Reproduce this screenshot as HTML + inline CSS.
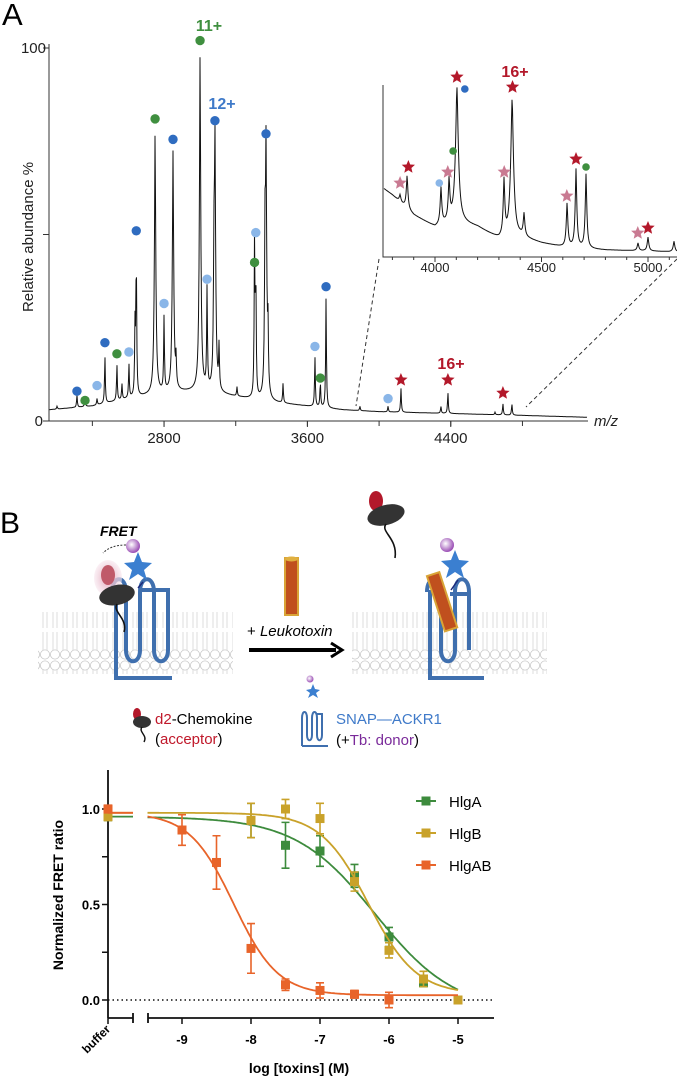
<!DOCTYPE html>
<html><head><meta charset="utf-8"><style>
html,body{margin:0;padding:0;background:#fff;width:677px;height:1079px;overflow:hidden}
svg{display:block;font-family:"Liberation Sans",sans-serif}
</style></head><body>
<svg id="fig" width="677" height="1079" viewBox="0 0 677 1079">
<defs>
<pattern id="lip" width="10" height="60" patternUnits="userSpaceOnUse">
<circle cx="5" cy="5.5" r="4.6" fill="#fff" stroke="#c8c8c8" stroke-width="0.8"/>
<circle cx="5" cy="54.5" r="4.6" fill="#fff" stroke="#c8c8c8" stroke-width="0.8"/>
<path d="M3 10 L3 28 M7 10 L7 28 M3 32 L3 50 M7 32 L7 50" stroke="#d4d4d4" stroke-width="0.8"/>
</pattern>
<radialGradient id="sph" cx="0.4" cy="0.4" r="0.6"><stop offset="0" stop-color="#fff"/><stop offset="1" stop-color="#9b4fb5"/></radialGradient>
<radialGradient id="glow"><stop offset="0" stop-color="#e0a0b4"/><stop offset="1" stop-color="#f7e6ee" stop-opacity="0.6"/></radialGradient>
</defs>

<!-- PANEL A -->
<text x="2" y="25" font-size="31">A</text>
<g id="specA"></g>
<text transform="translate(33,237) rotate(-90)" text-anchor="middle" font-size="15" fill="#222">Relative abundance %</text>
<text x="594" y="426" font-size="15" font-style="italic" fill="#222">m/z</text>

<!-- PANEL B diagram -->
<text x="0" y="533" font-size="30">B</text>
<g>
<rect x="38" y="612" width="195" height="62" fill="url(#lip)"/>
<rect x="352" y="612" width="195" height="62" fill="url(#lip)"/>
<path d="M112 592 C112 575 126 575 126 592 L126 650 C126 665 140 665 140 650 L140 592 C140 575 154 575 154 592 L154 650 C154 665 168 665 168 650 L168 592 L168 590 L140 590 M116 590 L116 678 L172 678" fill="none" stroke="#3f6fae" stroke-width="4"/>
<ellipse cx="108" cy="578" rx="14" ry="18" fill="url(#glow)"/>
<ellipse cx="108" cy="575" rx="7" ry="10" fill="#c05a6a"/>
<ellipse cx="117" cy="595" rx="18" ry="10" fill="#333" transform="rotate(-12 117 595)"/>
<path d="M117 604 C112 612 128 618 124 632" stroke="#111" stroke-width="1.6" fill="none"/>
<path d="M143 582 L138 588" stroke="#1d2a7a" stroke-width="1.5"/>
<polygon points="138,552 142,562 152,563 144,570 147,580 138,574 129,580 132,570 124,563 134,562" fill="#3b7fd0"/>
<circle cx="133" cy="546" r="7" fill="url(#sph)"/>
<text x="100" y="536" font-size="14" font-weight="bold" font-style="italic">FRET</text>
<path d="M126 545 C115 545 108 548 103 553" stroke="#333" stroke-width="1" stroke-dasharray="2,1.5" fill="none"/>
<rect x="285" y="558" width="13" height="57" fill="#c0501e" stroke="#d9a437" stroke-width="2"/>
<ellipse cx="291.5" cy="559" rx="6.5" ry="2.5" fill="#e0b040"/>
<text x="247" y="636" font-size="15">+ <tspan font-style="italic">Leukotoxin</tspan></text>
<line x1="249" y1="650" x2="336" y2="650" stroke="#000" stroke-width="4"/>
<path d="M331 643 L342 650 L331 657" fill="none" stroke="#000" stroke-width="3"/>
<path d="M427 592 C427 575 441 575 441 592 L441 650 C441 665 455 665 455 650 L455 592 C455 575 469 575 469 592 L469 650 L469 594 L450 594 M430 590 L430 678 L484 678" fill="none" stroke="#3f6fae" stroke-width="4"/>
<g transform="rotate(-18 441 600)"><rect x="435" y="573" width="13" height="58" fill="#c0501e" stroke="#d9a437" stroke-width="2"/></g>
<path d="M458 580 L451 590" stroke="#1d2a7a" stroke-width="1.5"/>
<polygon points="455,550 459,560 469,561 461,568 464,578 455,572 446,578 449,568 441,561 451,560" fill="#3b7fd0"/>
<circle cx="447" cy="545" r="7" fill="url(#sph)"/>
<ellipse cx="376" cy="501" rx="7" ry="10" fill="#b3182a"/>
<ellipse cx="386" cy="515" rx="19" ry="10" fill="#333" transform="rotate(-15 386 515)"/>
<path d="M386 524 C380 532 398 538 395 558" stroke="#111" stroke-width="1.6" fill="none"/>
<ellipse cx="137" cy="714" rx="4" ry="6" fill="#b3182a"/>
<ellipse cx="142" cy="722" rx="9" ry="6" fill="#333"/>
<path d="M142 727 C138 732 148 735 144 742" stroke="#111" stroke-width="1.4" fill="none"/>
<text x="155" y="724" font-size="15"><tspan fill="#c0182a">d2</tspan>-Chemokine</text>
<text x="155" y="744" font-size="15">(<tspan fill="#c0182a">acceptor</tspan>)</text>
<path d="M302 746 L302 718 C302 710 307 710 307 718 L307 735 C307 742 312 742 312 735 L312 718 C312 710 317 710 317 718 L317 735 C317 742 322 742 322 735 L322 714 L316 714 M302 746 L328 746" fill="none" stroke="#3f6fae" stroke-width="2"/>
<circle cx="310" cy="679" r="3.5" fill="url(#sph)"/>
<polygon points="313,684 315,689 320,690 316,693 318,698 313,695 308,698 310,693 306,690 311,689" fill="#3b7fd0"/>
<text x="336" y="724" font-size="15" fill="#3f7ac9">SNAP—ACKR1</text>
<text x="336" y="745" font-size="15">(+<tspan fill="#7a2a9a">Tb: donor</tspan>)</text>
</g>

<g id="chartB"></g>
</svg>

<script>
// ===== Panel A data =====
const peakMz = [2203,2314,2359,2426,2470,2537,2565,2604,2638,2645,2750,2800,2850,2867,3001,3040,3078,3084,3107,3207,3305,3312,3363,3369,3380,3464,3642,3672,3704,3893,4050,4122,4345,4384,4647,4691,4741];
const peakHeight = [4,7,6.5,6,18,15.5,10,15.5,25,48,79,28,73.5,15,100,35.6,33,78,19,9,48.5,40,37,75,21,10,17.7,11,33.8,4,4,9,4,8,2.4,4.8,4.8];
const baseMz = [2158,2400,2600,2800,3000,3200,3400,3600,3800,4000,4400,4800,5160];
const baseLevel = [3,4,6,7.5,8,6.5,5,4,3,2.5,2,1.5,1];
const xTickLabelsA = [2800,3600,4400];
const dotBlue = [[2314,8],[2470,21],[2645,51],[2850,75.5],[3084,80.5],[3369,77],[3704,36]];
const dotGreen = [[2359,5.5],[2537,18],[2750,81],[3001,102],[3305,42.5],[3672,11.5]];
const dotLight = [[2426,9.5],[2604,18.5],[2800,31.5],[3040,38],[3312,50.5],[3642,20],[4050,6]];
const starRed = [[4122,11],[4384,11],[4691,7.5]];
const insPeakMz = [3836,3869,4028,4066,4103,4324,4362,4418,4620,4662,4709,4953,5000,5122];
const insPeakH = [62,82,69,75,172,75,160,42,54,89,84,14,20,16];
const insBaseMz = [3756,3800,3900,4000,4100,4200,4300,4400,4500,4600,4800,5000,5150];
const insBaseH = [69,62,42,30,36,30,18,20,14,10,7,6,5];
const insTicks = [4000,4500,5000];
const insStarRed = [[3875,90],[4103,180],[4364,170],[4662,98],[5000,29]];
const insStarPink = [[3836,74],[4060,85],[4325,85],[4619,61],[4952,24]];
const insDots = [[4140,168,'#2f6cc0'],[4085,106,'#3f8f3f'],[4020,74,'#8ab6e8'],[4709,90,'#3f8f3f']];

// ===== Panel B data =====
const buffer = 'buffer';
const xTickLabelsB = [-9,-8,-7,-6,-5];
const yTickLabelsB = ['0.0','0.5','1.0'];
const seriesNames = ['HlgA','HlgB','HlgAB'];
const hlgaX = [-8,-7.5,-7,-6.5,-6,-5.5,-5];
const hlgaY = [0.94,0.81,0.78,0.65,0.33,0.09,0.0];
const hlgaErr = [0.09,0.12,0.08,0.06,0.05,0.02,0.01];
const hlgaBuf = 0.96;
const hlgbX = [-8,-7.5,-7,-6.5,-6,-5.5,-5];
const hlgbY = [0.94,1.0,0.95,0.62,0.26,0.11,0.0];
const hlgbErr = [0.09,0.05,0.08,0.05,0.04,0.04,0.01];
const hlgbBuf = 0.96;
const hlgabX = [-9,-8.5,-8,-7.5,-7,-6.5,-6];
const hlgabY = [0.89,0.72,0.27,0.08,0.05,0.03,0.0];
const hlgabErr = [0.08,0.14,0.13,0.03,0.04,0.02,0.04];
const hlgabBuf = 1.0;
const hlgaFit = [0.96,-0.06,-6.2,0.75];
const hlgbFit = [0.98,0.03,-6.3,1.25];
const hlgabFit = [0.98,0.025,-8.25,1.35];

const NS = 'http://www.w3.org/2000/svg';
function mk(parent, tag, attrs){const e=document.createElementNS(NS,tag);for(const k in attrs)e.setAttribute(k,attrs[k]);parent.appendChild(e);return e;}
function interp(xs,ys,x){if(x<=xs[0])return ys[0];for(let i=1;i<xs.length;i++){if(x<=xs[i]){const t=(x-xs[i-1])/(xs[i]-xs[i-1]);return ys[i-1]+t*(ys[i]-ys[i-1]);}}return ys[ys.length-1];}
function starPts(cx,cy,R){const r=R*0.45;let p=[];for(let i=0;i<10;i++){const a=-Math.PI/2+i*Math.PI/5;const rr=i%2?r:R;p.push((cx+rr*Math.cos(a)).toFixed(1)+','+(cy+rr*Math.sin(a)).toFixed(1));}return p.join(' ');}

const gA=document.getElementById('specA');
const xA = mz => 49 + (mz-2158)*0.1792;
const yA = v => 421 - v*3.73;
function specVal(mz,pm,ph,bm,bl,w,big){let b=interp(bm,bl,mz);let s=b;for(let i=0;i<pm.length;i++){const amp=(ph[i]-interp(bm,bl,pm[i]))*0.85;const ww=w*(ph[i]>big?1.8:1);const d=(mz-pm[i])/ww;s+=amp/(1+d*d);const d2=(mz-pm[i])/(ww*0.35);s+=amp*0.15*Math.exp(-d2*d2);}return s;}
let d='';
for(let px=49.5;px<=587;px+=0.5){const mz=2158+(px-49)/0.1792;const v=Math.min(specVal(mz,peakMz,peakHeight,baseMz,baseLevel,2.8,60),101);d+=(d?'L':'M')+px.toFixed(1)+' '+yA(v).toFixed(1);}
let e=mk(gA,'path',{d:d,fill:'none',stroke:'#111','stroke-width':1});


e=mk(gA,'line',{x1:49,y1:44,x2:49,y2:421,stroke:'#333','stroke-width':1});


e=mk(gA,'line',{x1:49,y1:421,x2:588,y2:421,stroke:'#333','stroke-width':1});


[[100,'100'],[50,''],[0,'0']].forEach(t=>{mk(gA,'line',{x1:43,y1:yA(t[0]),x2:49,y2:yA(t[0]),stroke:'#333'});if(t[1]){const tx=mk(gA,'text',{x:t[1]==='0'?43:46,y:yA(t[0])+5,'text-anchor':'end','font-size':15,fill:'#222'});tx.textContent=t[1];}});
for(let m=2400;m<=5100;m+=400){mk(gA,'line',{x1:xA(m),y1:421,x2:xA(m),y2:426,stroke:'#333'});}
xTickLabelsA.forEach(m=>{mk(gA,'line',{x1:xA(m),y1:421,x2:xA(m),y2:427,stroke:'#333'});const t=mk(gA,'text',{x:xA(m),y:443,'text-anchor':'middle','font-size':15,fill:'#222'});t.textContent=m;});
function dots(arr,col,name){arr.forEach(p=>{const c=mk(gA,'circle',{cx:xA(p[0]),cy:yA(p[1]),r:4.7,fill:col});});}
dots(dotBlue,'#2f6cc0','charge-dot-blue');dots(dotGreen,'#3f8f3f','charge-dot-green');dots(dotLight,'#8ab6e8','charge-dot-lightblue');
starRed.forEach(p=>{const s=mk(gA,'polygon',{points:starPts(xA(p[0]),yA(p[1]),7),fill:'#b3182a'});});
function lab(x,y,txt,col,name){const t=mk(gA,'text',{x:x,y:y,'text-anchor':'middle','font-size':16,'font-weight':'bold',fill:col});t.textContent=txt;}
lab(209,31,'11+','#3f8f3f','label-11plus');lab(222,109,'12+','#3f7ac9','label-12plus');lab(451,369,'16+','#b3182a','label-16plus');lab(515,77,'16+','#b3182a','inset-label-16plus');
const xI = mz => 435 + (mz-4000)*0.213;
const yI = v => 257 - v;
let di='';
for(let px=384;px<=677;px+=0.5){const mz=4000+(px-435)/0.213;const v=Math.min(specVal(mz,insPeakMz,insPeakH,insBaseMz,insBaseH,5,120),172);di+=(di?'L':'M')+px.toFixed(1)+' '+yI(v).toFixed(1);}
e=mk(gA,'path',{d:di,fill:'none',stroke:'#111','stroke-width':1});


e=mk(gA,'path',{d:'M383 85 L383 257 L677 257',fill:'none',stroke:'#333'});


for(let m=3800;m<=5100;m+=100){mk(gA,'line',{x1:xI(m),y1:257,x2:xI(m),y2:(m%500===0?262:260),stroke:'#333'});}
insTicks.forEach(m=>{const t=mk(gA,'text',{x:xI(m),y:272,'text-anchor':'middle','font-size':13,fill:'#222'});t.textContent=m;});
insStarRed.forEach(p=>{const s=mk(gA,'polygon',{points:starPts(xI(p[0]),yI(p[1]),7),fill:'#b3182a'});});
insStarPink.forEach(p=>{const s=mk(gA,'polygon',{points:starPts(xI(p[0]),yI(p[1]),7),fill:'#c97a92'});});
insDots.forEach(p=>{const c=mk(gA,'circle',{cx:xI(p[0]),cy:yI(p[1]),r:3.8,fill:p[2]});});
mk(gA,'line',{x1:379,y1:259,x2:356,y2:406,stroke:'#333','stroke-dasharray':'4,3'});
mk(gA,'line',{x1:677,y1:259,x2:526,y2:407,stroke:'#333','stroke-dasharray':'4,3'});

const gB=document.getElementById('chartB');
const xB = l => 182 + (l+9)*69;
const yB = v => 1000 - v*191;
const xBuf = 108;
e=mk(gB,'line',{x1:108,y1:770,x2:108,y2:1018,stroke:'#111','stroke-width':1.8});


e=mk(gB,'path',{d:'M108 1018 L133 1018 M133 1013 L133 1023 M148 1013 L148 1023 M148 1018 L494 1018',stroke:'#111','stroke-width':1.8,fill:'none'});


[0,0.25,0.5,0.75,1].forEach(v=>mk(gB,'line',{x1:102,y1:yB(v),x2:108,y2:yB(v),stroke:'#111','stroke-width':1.5}));
yTickLabelsB.forEach(s=>{const t=mk(gB,'text',{x:100,y:yB(+s)+5,'text-anchor':'end','font-size':13,'font-weight':'bold'});t.textContent=s;});
mk(gB,'line',{x1:108,y1:1018,x2:108,y2:1024,stroke:'#111','stroke-width':1.5});
xTickLabelsB.forEach(v=>{mk(gB,'line',{x1:xB(v),y1:1018,x2:xB(v),y2:1024,stroke:'#111','stroke-width':1.5});const t=mk(gB,'text',{x:xB(v),y:1044,'text-anchor':'middle','font-size':13,'font-weight':'bold'});t.textContent=v;});
e=mk(gB,'text',{x:0,y:0,'font-size':12,'font-weight':'bold',transform:'translate(111,1030) rotate(-45)','text-anchor':'end'});
e.textContent=buffer;


e=mk(gB,'line',{x1:108,y1:yB(0),x2:494,y2:yB(0),stroke:'#111','stroke-width':1.5,'stroke-dasharray':'1.5,3'});


e=mk(gB,'text',{x:0,y:0,transform:'translate(63,895) rotate(-90)','text-anchor':'middle','font-size':14,'font-weight':'bold'});
e.textContent='Normalized FRET ratio';


e=mk(gB,'text',{x:299,y:1073,'text-anchor':'middle','font-size':14,'font-weight':'bold'});
e.textContent='log [toxins] (M)';


const cols=['#3d8b3d','#c9a22a','#e8642a'];
const S=[[hlgaX,hlgaY,hlgaErr,hlgaBuf,hlgaFit],[hlgbX,hlgbY,hlgbErr,hlgbBuf,hlgbFit],[hlgabX,hlgabY,hlgabErr,hlgabBuf,hlgabFit]];
S.forEach((s,k)=>{const c=cols[k];const f=s[4];
 const fn=l=>f[1]+(f[0]-f[1])/(1+Math.pow(10,(l-f[2])*f[3]));
 let p='';for(let l=-9.5;l<=-5.0001+0.001;l+=0.02){p+=(p?'L':'M')+xB(l).toFixed(1)+' '+yB(fn(l)).toFixed(1);}
 let q=mk(gB,'path',{d:p,fill:'none',stroke:c,'stroke-width':1.8});
 
 
 mk(gB,'line',{x1:xBuf,y1:yB(f[0]),x2:133,y2:yB(f[0]),stroke:c,'stroke-width':1.8});
 const pts=[[xBuf,s[3],0.02]].concat(s[0].map((x,i)=>[xB(x),s[1][i],s[2][i]]));
 pts.forEach(pt=>{const x=pt[0],y=yB(pt[1]),ey=pt[2]*191;
  if(ey>2){mk(gB,'path',{d:`M${x} ${y-ey}L${x} ${y+ey}M${x-4} ${y-ey}L${x+4} ${y-ey}M${x-4} ${y+ey}L${x+4} ${y+ey}`,stroke:c,'stroke-width':1.6,fill:'none'});}
  const r=mk(gB,'rect',{x:x-4.5,y:y-4.5,width:9,height:9,fill:c});
  
  });
 const ly=801+k*32;
 mk(gB,'line',{x1:416,y1:ly,x2:436,y2:ly,stroke:c,'stroke-width':2});
 mk(gB,'rect',{x:421.5,y:ly-4.5,width:9,height:9,fill:c});
 const t=mk(gB,'text',{x:449,y:ly+6,'font-size':15});
 t.textContent=seriesNames[k];
 
 
});
</script>
</body></html>
